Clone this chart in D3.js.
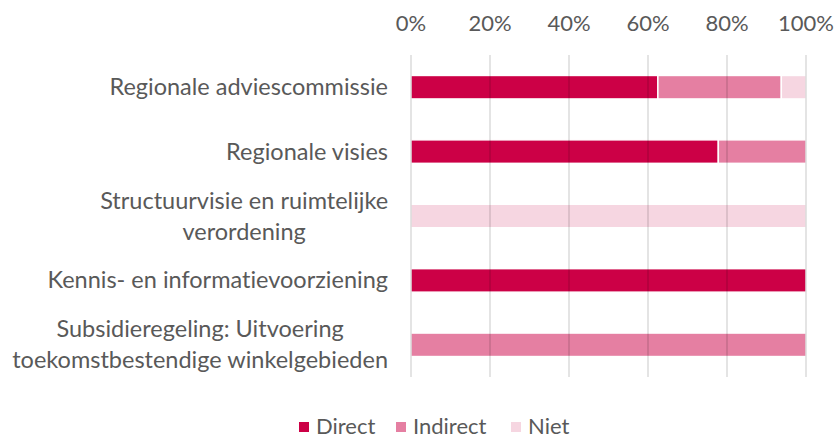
<!DOCTYPE html>
<html>
<head>
<meta charset="utf-8">
<script src="https://cdn.jsdelivr.net/npm/d3@7"></script>
<style>
  body { margin: 0; background: #fff; }
  text { font-family: "Lato", "Noto Sans", sans-serif; fill: #595959; font-variant-ligatures: none; }
</style>
</head>
<body>
<div id="chart"></div>
<script>
const width = 837;
const height = 439;

const categories = [
  ["Regionale adviescommissie"],
  ["Regionale visies"],
  ["Structuurvisie en ruimtelijke", "verordening"],
  ["Kennis- en informatievoorziening"],
  ["Subsidieregeling: Uitvoering", "toekomstbestendige winkelgebieden"]
];
const seriesNames = ["Direct", "Indirect", "Niet"];
const direct   = [62.5, 77.8, 0, 100, 0];
const indirect = [31.25, 22.2, 0, 0, 100];
const niet     = [6.25, 0, 100, 0, 0];
const tickValues = [0, 20, 40, 60, 80, 100];
const colors = ["#cc0046", "#e57fa2", "#f6d6e1"];

const rows = categories.map((c, i) => ({
  key: i, label: c, Direct: direct[i], Indirect: indirect[i], Niet: niet[i]
}));

const svg = d3.select("#chart").append("svg")
  .attr("width", width)
  .attr("height", height);

const x = d3.scaleLinear().domain([0, 100]).range([411, 806]);
const y = d3.scaleBand().domain(rows.map(d => d.key)).range([55, 377]).paddingInner(0.635).paddingOuter(0.3175);

const stack = d3.stack().keys(seriesNames)(rows);

svg.append("g")
  .selectAll("g")
  .data(stack)
  .join("g")
  .attr("fill", (d, i) => colors[i])
  .selectAll("rect")
  .data(d => d)
  .join("rect")
  .filter(d => d[1] - d[0] > 0)
  .attr("x", d => x(d[0]))
  .attr("y", d => y(d.data.key))
  .attr("width", d => x(d[1]) - x(d[0]))
  .attr("height", y.bandwidth())
  .attr("stroke", "#fff")
  .attr("stroke-width", 1.5);

// gridlines on top, semi-transparent
svg.append("g")
  .selectAll("line")
  .data(tickValues)
  .join("line")
  .attr("x1", d => x(d)).attr("x2", d => x(d))
  .attr("y1", 55).attr("y2", 377)
  .attr("stroke", "#000")
  .attr("stroke-opacity", 0.14)
  .attr("stroke-width", 1.5);

svg.append("g")
  .selectAll("text")
  .data(tickValues)
  .join("text")
  .attr("x", d => x(d))
  .attr("y", 31)
  .attr("text-anchor", "middle")
  .attr("font-size", 22)
  .text(d => d + "%");

// category labels: block right-aligned at 388, lines centred within the block
const labels = svg.append("g")
  .selectAll("text")
  .data(rows)
  .join("text")
  .attr("text-anchor", "middle")
  .attr("font-size", 23.5)
  .attr("y", d => y(d.key) + y.bandwidth() / 2 + 8 - (d.label.length - 1) * 15.5);

labels.selectAll("tspan")
  .data(d => d.label)
  .join("tspan")
  .attr("dy", (d, i) => i === 0 ? 0 : 31)
  .text(d => d);

labels.each(function() {
  const t = d3.select(this);
  let w = 0;
  t.selectAll("tspan").each(function() { w = Math.max(w, this.getComputedTextLength()); });
  t.selectAll("tspan").attr("x", 388 - w / 2);
});

const legendX = [299, 396, 511];
const legend = svg.append("g")
  .selectAll("g")
  .data(seriesNames)
  .join("g")
  .attr("transform", (d, i) => `translate(${legendX[i]},427)`);

legend.append("rect")
  .attr("x", 0).attr("y", -5)
  .attr("width", 10).attr("height", 10)
  .attr("fill", (d, i) => colors[i]);

legend.append("text")
  .attr("x", 17)
  .attr("y", 7)
  .attr("font-size", 22)
  .text(d => d);
</script>
</body>
</html>
